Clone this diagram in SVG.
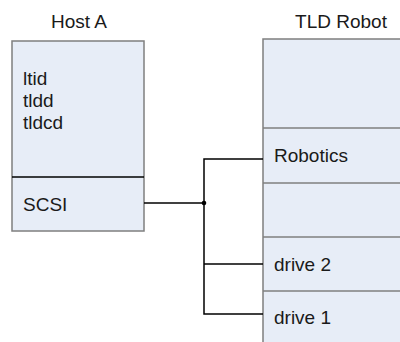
<svg xmlns="http://www.w3.org/2000/svg" width="400" height="342" viewBox="0 0 400 342">
<style>
.box{fill:#e7edf7;stroke:#7f7f7f;stroke-width:1.5}
.div{stroke:#000;stroke-width:1.3}
.t{font-family:"Liberation Sans",Arial,sans-serif;font-size:19px;fill:#1a1a1a}
.c{fill:none;stroke:#000;stroke-width:1.5}
</style>
<rect width="400" height="342" fill="#fff"/>
<g id="hostA">
<text class="t" x="79" y="28" text-anchor="middle">Host A</text>
<rect class="box" x="12" y="41" width="132" height="190"/>
<line class="div" x1="12" y1="177" x2="144" y2="177"/>
<text class="t" x="23" y="85">ltid</text>
<text class="t" x="23" y="107">tldd</text>
<text class="t" x="23" y="129">tldcd</text>
<text class="t" x="23" y="211">SCSI</text>
</g>
<g id="tldRobot">
<text class="t" x="341" y="28" text-anchor="middle">TLD Robot</text>
<rect class="box" x="263" y="39" width="150" height="320"/>
<line class="box" x1="263" y1="128" x2="400" y2="128"/>
<line class="box" x1="263" y1="183" x2="400" y2="183"/>
<line class="box" x1="263" y1="237" x2="400" y2="237"/>
<line class="box" x1="263" y1="291" x2="400" y2="291"/>
<text class="t" x="274" y="162">Robotics</text>
<text class="t" x="274" y="271">drive 2</text>
<text class="t" x="274" y="324">drive 1</text>
</g>
<g id="connectors">
<path class="c" d="M144 203H204"/>
<path class="c" d="M263 159H204V314H263"/>
<path class="c" d="M204 264H263"/>
<circle cx="204" cy="203" r="2.3" fill="#000"/>
</g>
</svg>
